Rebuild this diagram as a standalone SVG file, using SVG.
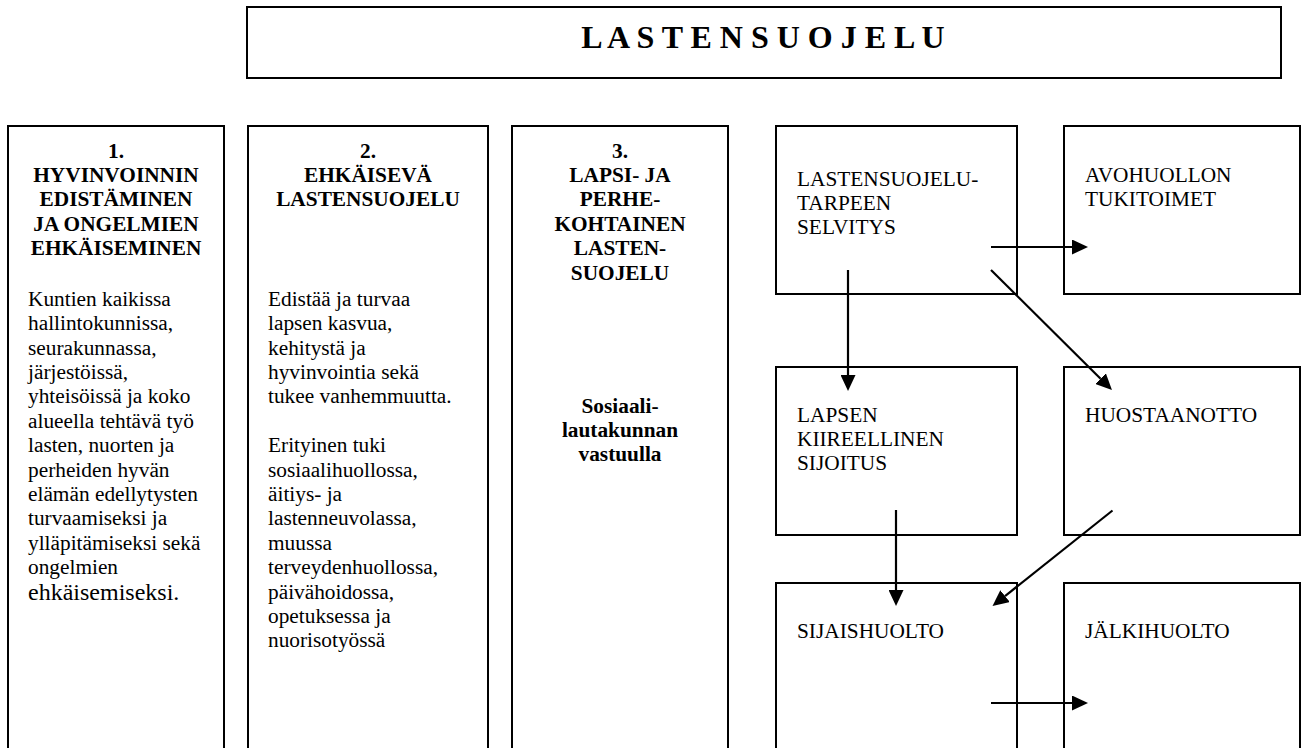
<svg xmlns="http://www.w3.org/2000/svg" width="1302" height="748" viewBox="0 0 1302 748">
<style>
  .box { fill: #ffffff; stroke: #000000; stroke-width: 2; }
  text { font-family: 'Liberation Serif', Tinos, 'Times New Roman', Times, 'DejaVu Serif', serif; fill: #000000; }
  .t { font-size: 21.33px; }
  .b { font-weight: bold; }
  .c { text-anchor: middle; }
  .title { font-size: 32px; font-weight: bold; text-anchor: middle; }
  .conn { stroke: #000000; stroke-width: 2.2; fill: none; marker-end: url(#ah); }
</style>
<defs>
  <marker id="ah" markerWidth="16" markerHeight="15" refX="0" refY="7.5" orient="auto" markerUnits="userSpaceOnUse">
    <path d="M0,0 L16,7.5 L0,15 z" fill="#000000"/>
  </marker>
</defs>
<rect x="0" y="0" width="1302" height="748" fill="#ffffff"/>

<g id="title" font-family="'Liberation Serif', serif">
  <rect class="box" x="247" y="7" width="1034" height="71"/>
  <text class="title" x="763" y="48">L A S T E N S U O J E L U</text>
</g>

<g id="col1" font-family="'Liberation Serif', serif">
  <rect class="box" x="8" y="126" width="216" height="640"/>
  <text class="t b c" x="116" y="157.5">1.</text>
  <text class="t b c" x="116" y="181.9">HYVINVOINNIN</text>
  <text class="t b c" x="116" y="206.3">EDISTÄMINEN</text>
  <text class="t b c" x="116" y="230.7">JA ONGELMIEN</text>
  <text class="t b c" x="116" y="255.1">EHKÄISEMINEN</text>
  <text class="t" x="28" y="305.7">Kuntien kaikissa</text>
  <text class="t" x="28" y="330.1">hallintokunnissa,</text>
  <text class="t" x="28" y="354.5">seurakunnassa,</text>
  <text class="t" x="28" y="378.9">järjestöissä,</text>
  <text class="t" x="28" y="403.3">yhteisöissä ja koko</text>
  <text class="t" x="28" y="427.7">alueella tehtävä työ</text>
  <text class="t" x="28" y="452.1">lasten, nuorten ja</text>
  <text class="t" x="28" y="476.5">perheiden hyvän</text>
  <text class="t" x="28" y="500.9">elämän edellytysten</text>
  <text class="t" x="28" y="525.3">turvaamiseksi ja</text>
  <text class="t" x="28" y="549.7">ylläpitämiseksi sekä</text>
  <text class="t" x="28" y="574.1">ongelmien</text>
  <text class="t" x="28" y="600" style="font-size:24px">ehkäisemiseksi.</text>
</g>

<g id="col2">
  <rect class="box" x="248" y="126" width="240" height="640"/>
  <text class="t b c" x="368" y="157.5">2.</text>
  <text class="t b c" x="368" y="181.9">EHKÄISEVÄ</text>
  <text class="t b c" x="368" y="206.3">LASTENSUOJELU</text>
  <text class="t" x="268" y="305.7">Edistää ja turvaa</text>
  <text class="t" x="268" y="330.1">lapsen kasvua,</text>
  <text class="t" x="268" y="354.5">kehitystä ja</text>
  <text class="t" x="268" y="378.9">hyvinvointia sekä</text>
  <text class="t" x="268" y="403.3">tukee vanhemmuutta.</text>
  <text class="t" x="268" y="452.1">Erityinen tuki</text>
  <text class="t" x="268" y="476.5">sosiaalihuollossa,</text>
  <text class="t" x="268" y="500.9">äitiys- ja</text>
  <text class="t" x="268" y="525.3">lastenneuvolassa,</text>
  <text class="t" x="268" y="549.7">muussa</text>
  <text class="t" x="268" y="574.1">terveydenhuollossa,</text>
  <text class="t" x="268" y="598.5">päivähoidossa,</text>
  <text class="t" x="268" y="622.9">opetuksessa ja</text>
  <text class="t" x="268" y="647.3">nuorisotyössä</text>
</g>

<g id="col3">
  <rect class="box" x="512" y="126" width="216" height="640"/>
  <text class="t b c" x="620" y="157.5">3.</text>
  <text class="t b c" x="620" y="181.9">LAPSI- JA</text>
  <text class="t b c" x="620" y="206.3">PERHE-</text>
  <text class="t b c" x="620" y="230.7">KOHTAINEN</text>
  <text class="t b c" x="620" y="255.1">LASTEN-</text>
  <text class="t b c" x="620" y="279.5">SUOJELU</text>
  <text class="t b c" x="620" y="412.5">Sosiaali-</text>
  <text class="t b c" x="620" y="436.9">lautakunnan</text>
  <text class="t b c" x="620" y="461.3">vastuulla</text>
</g>

<g id="selvitys">
  <rect class="box" x="776" y="126" width="241" height="168"/>
  <text class="t" x="797" y="185.5">LASTENSUOJELU-</text>
  <text class="t" x="797" y="209.9">TARPEEN</text>
  <text class="t" x="797" y="234.3">SELVITYS</text>
</g>

<g id="avohuolto">
  <rect class="box" x="1064" y="126" width="236" height="168"/>
  <text class="t" x="1085" y="181.5">AVOHUOLLON</text>
  <text class="t" x="1085" y="205.9">TUKITOIMET</text>
</g>

<g id="kiireellinen">
  <rect class="box" x="776" y="367" width="241" height="168"/>
  <text class="t" x="797" y="421.5">LAPSEN</text>
  <text class="t" x="797" y="445.9">KIIREELLINEN</text>
  <text class="t" x="797" y="470.3">SIJOITUS</text>
</g>

<g id="huostaanotto">
  <rect class="box" x="1064" y="367" width="236" height="168"/>
  <text class="t" x="1085" y="421.5">HUOSTAANOTTO</text>
</g>

<g id="sijaishuolto">
  <rect class="box" x="776" y="583" width="241" height="200"/>
  <text class="t" x="797" y="638">SIJAISHUOLTO</text>
</g>

<g id="jalkihuolto">
  <rect class="box" x="1064" y="583" width="236" height="200"/>
  <text class="t" x="1085" y="638">JÄLKIHUOLTO</text>
</g>

<g id="connectors">
  <line class="conn" x1="991" y1="247" x2="1072" y2="247"/>
  <line class="conn" x1="848" y1="270" x2="848" y2="375"/>
  <line class="conn" x1="991" y1="270" x2="1100.6" y2="378.7"/>
  <line class="conn" x1="896" y1="510" x2="896" y2="590"/>
  <line class="conn" x1="1112.5" y1="510.5" x2="1005" y2="596.1"/>
  <line class="conn" x1="991" y1="703" x2="1072" y2="703"/>
</g>
</svg>
